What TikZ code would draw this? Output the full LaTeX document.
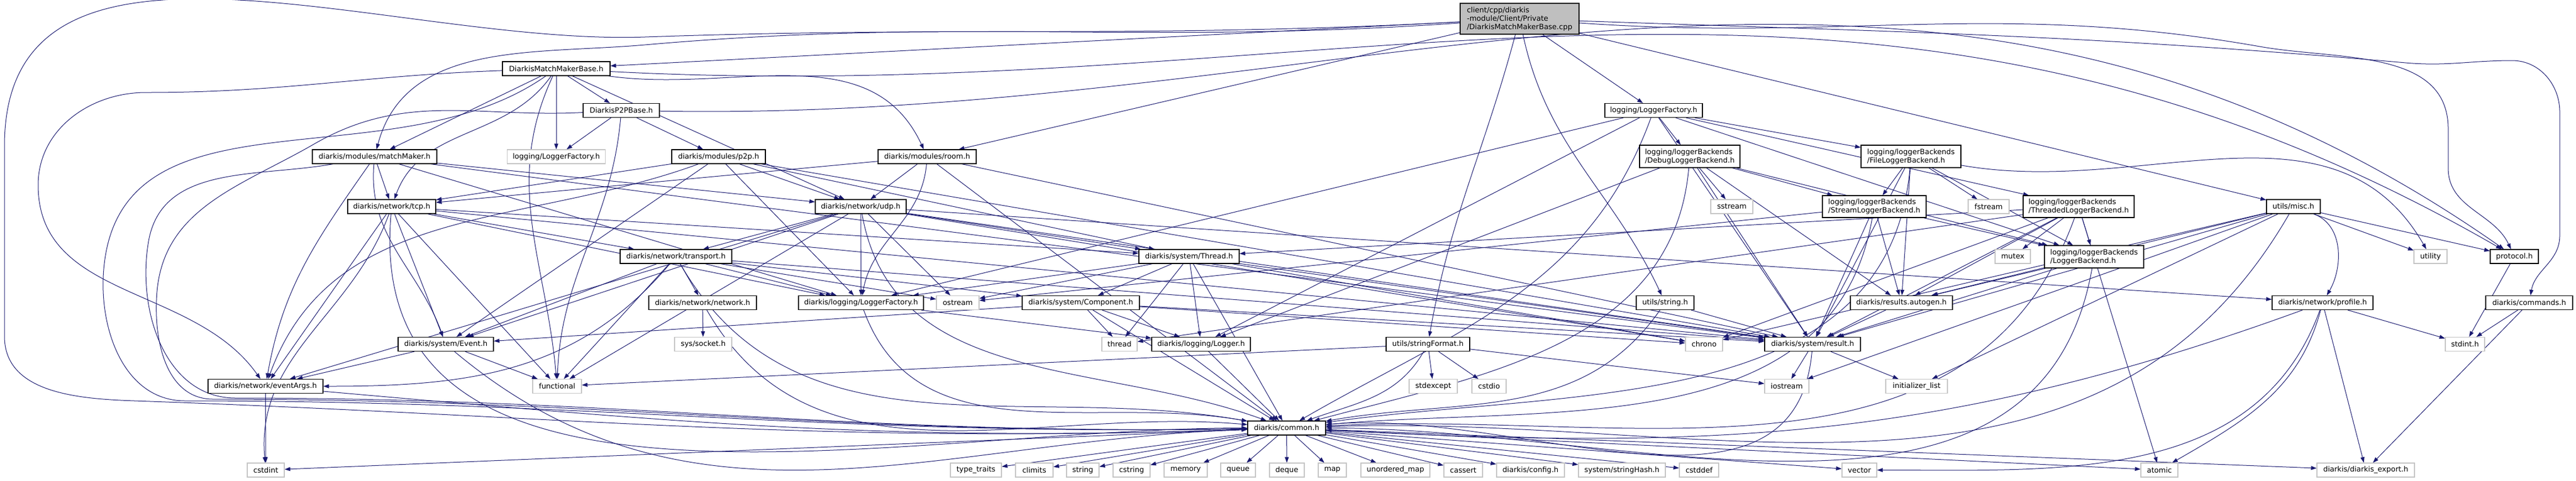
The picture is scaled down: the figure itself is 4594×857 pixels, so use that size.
\documentclass[tikz,border=0pt]{standalone}
\usepackage{fontspec}
\setmainfont{DejaVu Sans}
\usetikzlibrary{arrows.meta,backgrounds}
\definecolor{depblue}{HTML}{191970}
\definecolor{sysgray}{HTML}{C4C4C4}
\definecolor{rootgray}{HTML}{BFBFBF}
\newcommand{\dxfont}{\fontsize{2.6}{3}\selectfont}
\tikzset{
  bw/.style={minimum width={#1*0.2pt}},
  bh/.style={minimum height={#1*0.2pt}},
  hdr/.style={draw=black, line width=0.24pt, fill=white, bh=25, inner sep=0.4pt, font=\dxfont},
  sys/.style={hdr, draw=sysgray},
  twoline/.style={hdr, align=left, bh=40},
  rootbox/.style={hdr, fill=rootgray, align=left, bh=55},
  dep/.style={draw=depblue, line width=0.2pt, -{Triangle[length=2pt,width=1.4pt]}},
}
\begin{document}
\begin{tikzpicture}[x=0.2pt, y=-0.2pt]
\useasboundingbox (0,0) rectangle (4594,857);

% top levels
\node[rootbox, bw=212] (root) at (2710,33.5) {client/cpp/diarkis\\-module/Client/Private\\/DiarkisMatchMakerBase.cpp};
\node[hdr, bw=192] (mmb) at (992,122.5) {DiarkisMatchMakerBase.h};
\node[hdr, bw=136] (p2pb) at (1108,197) {DiarkisP2PBase.h};
\node[hdr, bw=174] (lf) at (2949,197) {logging/LoggerFactory.h};
\node[sys, bw=175] (lfg) at (992,279.5) {logging/LoggerFactory.h};
\node[hdr, bw=222] (mm) at (668,279.5) {diarkis/modules/matchMaker.h};
\node[hdr, bw=167] (p2p) at (1281.5,279.5) {diarkis/modules/p2p.h};
\node[hdr, bw=175] (room) at (1653.5,279.5) {diarkis/modules/room.h};
\node[twoline, bw=179] (dbg) at (3013.5,279) {logging/loggerBackends\\/DebugLoggerBackend.h};
\node[twoline, bw=178] (file) at (3408,279) {logging/loggerBackends\\/FileLoggerBackend.h};

% row at 368
\node[hdr, bw=157] (tcp) at (698.5,368.5) {diarkis/network/tcp.h};
\node[hdr, bw=162] (udp) at (1535,368.5) {diarkis/network/udp.h};
\node[sys, bw=75] (sstream) at (3088.5,368.5) {sstream};
\node[twoline, bw=185, bh=39] (stream) at (3342.5,368.5) {logging/loggerBackends\\/StreamLoggerBackend.h};
\node[sys, bw=73] (fstream) at (3546.5,368.5) {fstream};
\node[twoline, bw=198, bh=39] (threaded) at (3707,368.5) {logging/loggerBackends\\/ThreadedLoggerBackend.h};
\node[hdr, bw=96] (misc) at (4090,368.5) {utils/misc.h};

% row at 457
\node[hdr, bw=199] (transport) at (1205.5,457.5) {diarkis/network/transport.h};
\node[hdr, bw=179] (thread) at (2120.5,457.5) {diarkis/system/Thread.h};
\node[sys, bw=63] (mutex) at (3589.5,457.5) {mutex};
\node[twoline, bw=177] (lb) at (3734.5,458) {logging/loggerBackends\\/LoggerBackend.h};
\node[sys, bw=59] (utility) at (4334.5,457.5) {utility};
\node[hdr, bw=86] (protocol) at (4484,457.5) {protocol.h};

% row at 540
\node[hdr, bw=192] (network) at (1253,540) {diarkis/network/network.h};
\node[hdr, bw=223] (dlf) at (1535.5,540) {diarkis/logging/LoggerFactory.h};
\node[sys, bw=76] (ostream) at (1708,540) {ostream};
\node[hdr, bw=209] (component) at (1927.5,540) {diarkis/system/Component.h};
\node[hdr, bw=103] (ustring) at (2969.5,540) {utils/string.h};
\node[hdr, bw=182] (results) at (3391,540) {diarkis/results.autogen.h};
\node[hdr, bw=180] (profile) at (4142,540) {diarkis/network/profile.h};
\node[hdr, bw=155] (commands) at (4510.5,540) {diarkis/commands.h};

% row at 614
\node[hdr, bw=170] (event) at (795,614) {diarkis/system/Event.h};
\node[sys, bw=102] (sockh) at (1254,614) {sys/socket.h};
\node[sys, bw=63] (threadstd) at (1996.5,614) {thread};
\node[hdr, bw=176] (logger) at (2142,614) {diarkis/logging/Logger.h};
\node[hdr, bw=149] (sformat) at (2546.5,614) {utils/stringFormat.h};
\node[sys, bw=66] (chrono) at (3039,614) {chrono};
\node[hdr, bw=171] (result) at (3232.5,614) {diarkis/system/result.h};
\node[sys, bw=70] (stdint) at (4396,614) {stdint.h};

% row at 689
\node[hdr, bw=205] (eventargs) at (473.5,689) {diarkis/network/eventArgs.h};
\node[sys, bw=87] (functional) at (993.5,689) {functional};
\node[sys, bw=86] (stdexcept) at (2556,689) {stdexcept};
\node[sys, bw=61] (cstdio) at (2655.5,689) {cstdio};
\node[sys, bw=79] (iostream) at (3186.5,689) {iostream};
\node[sys, bw=110] (initlist) at (3418,689) {initializer\_list};

\node[hdr, bw=139] (common) at (2294.5,763.5) {diarkis/common.h};

% bottom row
\node[sys, bw=66] (cstdint) at (474,838.5) {cstdint};
\node[sys, bw=91] (typetraits) at (1740.5,838.5) {type\_traits};
\node[sys, bw=67] (climits) at (1844.5,838.5) {climits};
\node[sys, bw=58] (string) at (1931,838.5) {string};
\node[sys, bw=66] (cstring) at (2018,838.5) {cstring};
\node[sys, bw=77] (memory) at (2114.5,838.5) {memory};
\node[sys, bw=62] (queue) at (2208,838.5) {queue};
\node[sys, bw=62] (deque) at (2295,838.5) {deque};
\node[sys, bw=50] (map) at (2376,838.5) {map};
\node[sys, bw=123] (umap) at (2488.5,838.5) {unordered\_map};
\node[sys, bw=69] (cassert) at (2609.5,838.5) {cassert};
\node[sys, bw=121] (config) at (2729.5,838.5) {diarkis/config.h};
\node[sys, bw=155] (strhash) at (2892.5,838.5) {system/stringHash.h};
\node[sys, bw=70] (cstddef) at (3030,838.5) {cstddef};
\node[sys, bw=62] (vector) at (3316,838.5) {vector};
\node[sys, bw=66] (atomic) at (3851,838.5) {atomic};
\node[sys, bw=174] (export) at (4219,838.5) {diarkis/diarkis\_export.h};

\begin{pgfonlayer}{background}
% long swoops
\draw[dep] (root) to[out=183,in=2] (1150,66) to[out=182,in=90] (8,260) -- (8,600) to[out=270,in=178] (240,715) to[out=-2,in=182] (common);
\draw[dep] (root) to[out=184,in=5] (1150,80) to[out=185,in=75] (mm);
\draw[dep] (root) to[out=-4,in=170] (4030,83) to[out=-10,in=90] (4366,230) -- (4366,300) to[out=270,in=115] (protocol);
\draw[dep] (root) to[out=-2,in=175] (4290,112) to[out=-5,in=180] (4480,108) to[out=0,in=90] (4565,200) -- (4565,420) to[out=270,in=80] (commands);
\draw[dep] (mmb) to[out=182,in=0] (260,165) to[out=180,in=90] (68,330) to[out=270,in=125] (eventargs);
\draw[dep] (mmb) to[out=215,in=85] (185,480) to[out=265,in=180] (330,715) to[out=0,in=181] (common);
\draw[dep] (p2pb) to[out=183,in=30] (560,257) to[out=210,in=85] (280,520) to[out=265,in=180] (380,712) to[out=0,in=181] (common);
\draw[dep] (mm) to[out=190,in=80] (265,430) to[out=260,in=180] (420,710) to[out=0,in=181] (common);

\path[every edge/.style=dep]
  % root
  (root) edge (mmb)
  (root) edge (room)
  (root) edge (lf)
  (root) edge (misc)
  (root) edge[out=255,in=80] (sformat)
  (root) edge[out=282,in=115] (ustring)
  % DiarkisMatchMakerBase.h
  (mmb) edge (p2pb)
  (mmb) edge (lfg)
  (mmb) edge (mm)
  (mmb) edge[out=235,in=70] (tcp)
  (mmb) edge (udp)
  (mmb) edge[out=-8,in=115] (room)
  (mmb) edge[out=245,in=95] (functional)
  (mmb) edge[out=-3,in=150] (protocol)
  % DiarkisP2PBase.h
  (p2pb) edge (lfg)
  (p2pb) edge (p2p)
  (p2pb) edge[out=265,in=88] (functional)
  (p2pb) edge[out=-1,in=145] (protocol)
  % modules
  (mm) edge (tcp)
  (mm) edge (udp)
  (mm) edge[out=265,in=110] (event)
  (mm) edge[out=235,in=80] (eventargs)
  (mm) edge (dlf)
  (mm) edge (result)
  (p2p) edge (udp)
  (p2p) edge (tcp)
  (p2p) edge (event)
  (p2p) edge (dlf)
  (p2p) edge (thread)
  (p2p) edge (result)
  (p2p) edge[out=200,in=70] (eventargs)
  (room) edge (udp)
  (room) edge[out=265,in=80] (dlf)
  (room) edge (result)
  (room) edge (common)
  (room) edge (tcp)
  % network
  (tcp) edge (transport)
  (tcp) edge (event)
  (tcp) edge (eventargs)
  (tcp) edge (functional)
  (tcp) edge[out=265,in=180] (common)
  (tcp) edge[out=250,in=95] (cstdint)
  (tcp) edge (dlf)
  (tcp) edge (result)
  (tcp) edge (thread)
  (udp) edge (transport)
  (udp) edge (dlf)
  (udp) edge (ostream)
  (udp) edge (event)
  (udp) edge (eventargs)
  (udp) edge (functional)
  (udp) edge[out=280,in=160] (common)
  (udp) edge (thread)
  (udp) edge (result)
  (udp) edge (chrono)
  (udp) edge (profile)
  (transport) edge (network)
  (transport) edge (dlf)
  (transport) edge (ostream)
  (transport) edge (component)
  (transport) edge[out=300,in=170] (common)
  (transport) edge (result)
  (transport) edge[out=230,in=0] (eventargs)
  (transport) edge (event)
  (transport) edge (functional)
  (network) edge (sockh)
  (network) edge[out=300,in=175] (common)
  % system
  (thread) edge (dlf)
  (thread) edge (ostream)
  (thread) edge (component)
  (thread) edge (threadstd)
  (thread) edge (logger)
  (thread) edge (common)
  (thread) edge (result)
  (thread) edge (chrono)
  (dlf) edge (logger)
  (dlf) edge[out=290,in=170] (common)
  (component) edge (threadstd)
  (component) edge (logger)
  (component) edge (common)
  (component) edge (result)
  (component) edge (event)
  (component) edge (chrono)
  % logging
  (lf) edge (dbg)
  (lf) edge (file)
  (lf) edge (threaded)
  (lf) edge (lb)
  (lf) edge (dlf)
  (lf) edge (logger)
  (lf) edge[out=250,in=30] (common)
  (lf) edge (result)
  (dbg) edge (sstream)
  (dbg) edge (stream)
  (dbg) edge (lb)
  (dbg) edge (result)
  (dbg) edge[out=265,in=15] (common)
  (dbg) edge (results)
  (dbg) edge (logger)
  (file) edge (stream)
  (file) edge (fstream)
  (file) edge (lb)
  (file) edge (results)
  (file) edge (result)
  (file) edge[out=265,in=8] (common)
  (file) edge[out=-10,in=120] (utility)
  (stream) edge (lb)
  (stream) edge (results)
  (stream) edge (result)
  (stream) edge[out=260,in=5] (common)
  (stream) edge (ostream)
  (threaded) edge (lb)
  (threaded) edge (mutex)
  (threaded) edge (thread)
  (threaded) edge (threadstd)
  (threaded) edge (atomic)
  (threaded) edge (results)
  (threaded) edge (result)
  (threaded) edge[out=250,in=3] (common)
  (threaded) edge (chrono)
  (lb) edge (results)
  (lb) edge (result)
  (lb) edge[out=260,in=0] (common)
  % utils
  (misc) edge (results)
  (misc) edge (result)
  (misc) edge[out=240,in=2] (common)
  (misc) edge (chrono)
  (misc) edge (iostream)
  (misc) edge (initlist)
  (misc) edge (protocol)
  (misc) edge (utility)
  (misc) edge[out=-20,in=60] (profile)
  (ustring) edge (result)
  (ustring) edge[out=235,in=10] (common)
  (sformat) edge (stdexcept)
  (sformat) edge (cstdio)
  (sformat) edge (iostream)
  (sformat) edge[out=240,in=20] (common)
  (sformat) edge (functional)
  (results) edge (result)
  (result) edge (iostream)
  (result) edge (initlist)
  (result) edge[out=265,in=5] (common)
  (logger) edge (common)
  (event) edge (eventargs)
  (event) edge (functional)
  (event) edge[out=-40,in=182] (common)
  (eventargs) edge (cstdint)
  (eventargs) edge[out=-5,in=182] (common)
  % profile, commands, protocol
  (profile) edge (stdint)
  (profile) edge (export)
  (profile) edge[out=250,in=0] (vector)
  (profile) edge[out=255,in=30] (atomic)
  (profile) edge[out=200,in=-3] (common)
  (commands) edge (stdint)
  (commands) edge (export)
  (protocol) edge (stdint)
  % diarkis/common.h
  (common) edge (cstdint)
  (common) edge (typetraits)
  (common) edge (climits)
  (common) edge (string)
  (common) edge (cstring)
  (common) edge (memory)
  (common) edge (queue)
  (common) edge (deque)
  (common) edge (map)
  (common) edge (umap)
  (common) edge (cassert)
  (common) edge (config)
  (common) edge (strhash)
  (common) edge (cstddef)
  (common) edge (vector)
  (common) edge (atomic)
  (common) edge (export)
  ;
\end{pgfonlayer}
\end{tikzpicture}
\end{document}
